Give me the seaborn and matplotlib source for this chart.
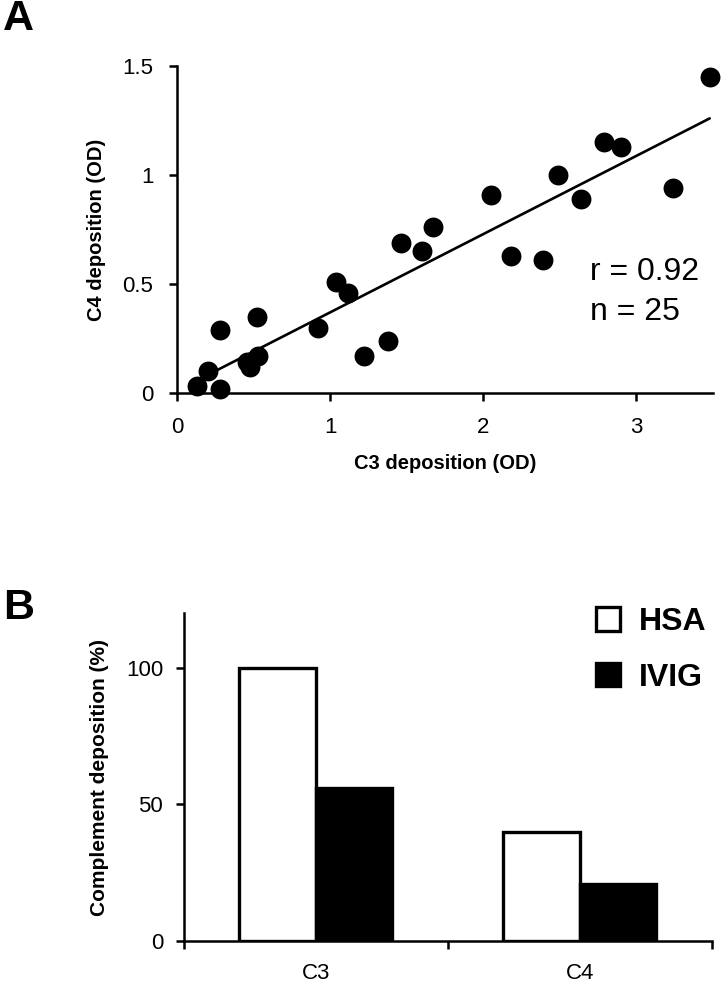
import numpy as np
import pandas as pd
import seaborn as sns
import matplotlib.pyplot as plt

# Panel A: C3 vs C4 deposition (OD), one point per sample
c3_od = [0.13, 0.20, 0.28, 0.28, 0.46, 0.48, 0.52, 0.53, 0.92, 1.04, 1.12, 1.22, 1.38,
         1.46, 1.60, 1.67, 2.05, 2.18, 2.39, 2.49, 2.64, 2.79, 2.90, 3.24, 3.48]
c4_od = [0.03, 0.10, 0.02, 0.29, 0.14, 0.12, 0.35, 0.17, 0.30, 0.51, 0.46, 0.17, 0.24,
         0.69, 0.65, 0.76, 0.91, 0.63, 0.61, 1.00, 0.89, 1.15, 1.13, 0.94, 1.45]
r_text = "r = 0.92"
n_text = "n = 25"

# Panel B: complement deposition (%)
components = ['C3', 'C4']
hsa_pct = [100, 40]
ivig_pct = [56, 21]
groups = ['HSA', 'IVIG']

sns.set_style('ticks')
plt.rcParams['font.family'] = ['Liberation Sans', 'DejaVu Sans']
plt.rcParams.update({
    'axes.linewidth': 1.8,
    'text.color': 'black',
    'axes.labelcolor': 'black',
    'axes.edgecolor': 'black',
    'xtick.color': 'black',
    'ytick.color': 'black',
})

fig = plt.figure(figsize=(7.24, 9.83), dpi=100)

# ---- Panel A ----
ax1 = fig.add_axes([0.2445, 0.6002, 0.740, 0.3327])
sns.regplot(x=c3_od, y=c4_od, ax=ax1, ci=None, color='black',
            scatter_kws={'s': 205, 'alpha': 1, 'linewidths': 0, 'clip_on': False, 'zorder': 3},
            line_kws={'lw': 1.9, 'color': 'black'})
ax1.set_xlim(0, 3.5)
ax1.set_ylim(0, 1.5)
ax1.set_xticks([0, 1, 2, 3])
ax1.set_xticklabels(['0', '1', '2', '3'])
ax1.set_yticks([0, 0.5, 1, 1.5])
ax1.set_yticklabels(['0', '0.5', '1', '1.5'])
ax1.tick_params(labelsize=16, width=1.8, length=6)
ax1.tick_params(axis='y', pad=11)
ax1.tick_params(axis='x', pad=11)
ax1.set_xlabel('C3 deposition (OD)', fontsize=14.5, fontweight='bold', labelpad=12)
ax1.set_ylabel('C4 deposition (OD)', fontsize=14.5, fontweight='bold', labelpad=12)
sns.despine(ax=ax1)
ax1.text(2.70, 0.518, r_text, fontsize=23, va='baseline', ha='left')
ax1.text(2.70, 0.335, n_text, fontsize=23, va='baseline', ha='left')

# ---- Panel B ----
df = pd.DataFrame({
    'component': components * 2,
    'group': ['HSA'] * len(components) + ['IVIG'] * len(components),
    'pct': hsa_pct + ivig_pct,
})
ax2 = fig.add_axes([0.254, 0.0427, 0.729, 0.3337])
sns.barplot(data=df, x='component', y='pct', hue='group', hue_order=groups,
            palette={'HSA': 'white', 'IVIG': 'black'}, edgecolor='black',
            linewidth=2.4, width=0.58, ax=ax2, saturation=1)
ax2.set_xlim(-0.5, 1.5)
ax2.set_ylim(0, 120)
ax2.set_yticks([0, 50, 100])
ax2.set_xticks([-0.5, 0.5, 1.5])
ax2.set_xticklabels([])
ax2.set_xticks([0, 1], minor=True)
ax2.set_xticklabels(components, minor=True)
ax2.tick_params(which='both', labelsize=16, width=1.8, length=6)
ax2.tick_params(axis='x', which='minor', length=0, pad=16)
ax2.tick_params(axis='y', pad=9)
ax2.set_xlabel('')
ax2.set_ylabel('Complement deposition (%)', fontsize=15, fontweight='bold', labelpad=12)
sns.despine(ax=ax2)

handles, labels = ax2.get_legend_handles_labels()
for h in handles:
    h.set_edgecolor('black')
    h.set_linewidth(2.4)
ax2.legend(handles, labels, frameon=False, loc='upper right', bbox_to_anchor=(1.045, 1.105),
           prop={'size': 23, 'weight': 'bold'}, handlelength=0.75, handleheight=0.75,
           handletextpad=0.6, labelspacing=0.8)

fig.text(0.004, 0.981, 'A', fontsize=31, fontweight='bold', va='center')
fig.text(0.004, 0.3815, 'B', fontsize=31, fontweight='bold', va='center')

fig.savefig('out.png', dpi=100)
